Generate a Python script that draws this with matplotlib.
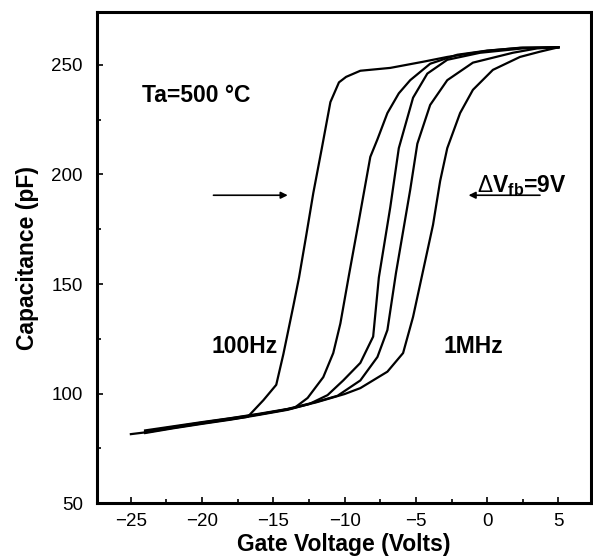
import matplotlib
matplotlib.use('Agg')
import matplotlib.pyplot as plt

# fuentes tipo Helvetica
plt.rcParams['font.family'] = ['Liberation Sans', 'DejaVu Sans']
plt.rcParams['mathtext.fontset'] = 'custom'
plt.rcParams['mathtext.rm'] = 'Liberation Sans'
plt.rcParams['mathtext.bf'] = 'Liberation Sans:bold'

# curvas C-V, de 100Hz a 1MHz
v1 = [-25, -24, -22, -20, -18, -16.8, -15.7, -14.8, -14.3, -13.6, -13.2, -12.7, -12.2, -11.6,
      -11.0, -10.4, -9.9, -8.9, -6.8, -4.5, -2.8, 0, 2.3, 5]
c1 = [81.5, 82.3, 84.4, 86.4, 88.3, 89.4, 97, 104, 118, 140, 153, 172, 191.5, 212,
      233, 242, 244.5, 247.3, 248.6, 251.4, 253.6, 256.4, 257.8, 258]

v2 = [-24, -22, -20, -18, -16, -14.5, -13.5, -12.6, -11.5, -10.8, -10.3, -9.7, -9.0, -8.2,
      -7.7, -7.0, -6.2, -5.4, -4.0, -2.1, 0, 2.5, 5]
c2 = [82.8, 84.8, 86.8, 88.7, 90.6, 92.3, 93.6, 98, 107.5, 118.5, 132, 154, 179, 208,
      216, 228, 237, 243, 250.5, 254.6, 256.5, 257.8, 258]

v3 = [-24, -22, -20, -18, -16, -14, -12.5, -11.2, -10.1, -8.9, -8.0, -7.6, -6.8, -6.2,
      -5.2, -4.2, -2.8, -0.5, 2.5, 5]
c3 = [82.0, 84.2, 86.2, 88.1, 90.3, 92.6, 95.2, 99.3, 106, 114, 126, 153, 185, 212,
      235, 246, 252.3, 255.5, 257.5, 258]

v4 = [-24, -22, -20, -18, -16, -14, -12, -10.5, -8.9, -7.7, -7.0, -6.4, -5.4, -4.9,
      -4.0, -2.8, -1.0, 1.8, 3.5, 5]
c4 = [83.2, 85.1, 87.0, 88.8, 90.8, 93.0, 96.2, 99.0, 106, 116.7, 129, 155, 193, 214,
      231.7, 243, 251, 255.5, 257.5, 258]

v5 = [-24, -22, -20, -18, -16, -14, -12, -10, -8.9, -7.0, -5.9, -5.2, -4.5, -3.8,
      -3.3, -2.8, -1.9, -1.0, 0.4, 2.3, 3.7, 5]
c5 = [82.5, 84.6, 86.6, 88.4, 90.5, 92.8, 96.0, 99.8, 102.5, 110, 118.5, 135, 156, 177,
      197, 212, 228, 238.6, 247.7, 253.6, 256, 258]

curvas = [(v1, c1), (v2, c2), (v3, c3), (v4, c4), (v5, c5)]

fig = plt.figure(figsize=(5.93, 5.56), dpi=100)
ax = fig.add_axes([0.163, 0.095, 0.834, 0.883])

for v, c in curvas:
    ax.plot(v, c, color='black', linewidth=1.6, solid_joinstyle='round')

ax.set_xlim(-27.4, 7.3)
ax.set_ylim(50, 274)
ax.set_xticks([-25, -20, -15, -10, -5, 0, 5])
ax.set_xticklabels(['\u221225', '\u221220', '\u221215', '\u221210', '\u22125', '0', '5'])
ax.set_yticks([50, 100, 150, 200, 250])
ax.set_xticks([-22.5, -17.5, -12.5, -7.5, -2.5, 2.5], minor=True)
ax.set_yticks([75, 125, 175, 225], minor=True)
ax.tick_params(which='both', direction='in', labelsize=13.5, width=1.2)
ax.tick_params(which='major', length=4)
ax.tick_params(which='minor', length=3)
ax.tick_params(axis='x', which='major', pad=7)
ax.tick_params(axis='y', which='major', pad=10)
for s in ax.spines.values():
    s.set_linewidth(2.2)

ax.set_xlabel('Gate Voltage (Volts)', fontsize=16.5, fontweight='bold', labelpad=2)
ax.set_ylabel('Capacitance (pF)', fontsize=16.5, fontweight='bold', labelpad=9)

# textos
ax.text(-20.4, 236, 'Ta=500 \u00b0C', fontsize=16.5, fontweight='bold', ha='center', va='center')
ax.text(2.4, 195, r'$\Delta$V$_{\mathbf{fb}}$=9V', fontsize=16.5, fontweight='bold',
        ha='center', va='center')
ax.text(-17.0, 121.5, '100Hz', fontsize=16.5, fontweight='bold', ha='center', va='center')
ax.text(-1.0, 121.5, '1MHz', fontsize=16.5, fontweight='bold', ha='center', va='center')

# flechas
ax.annotate('', xy=(-13.8, 190.5), xytext=(-19.4, 190.5),
            arrowprops=dict(arrowstyle='-|>', color='black', lw=1.2, mutation_scale=10))
ax.annotate('', xy=(-1.5, 190.5), xytext=(3.9, 190.5),
            arrowprops=dict(arrowstyle='-|>', color='black', lw=1.2, mutation_scale=10))

plt.savefig('out.png', dpi=100)
